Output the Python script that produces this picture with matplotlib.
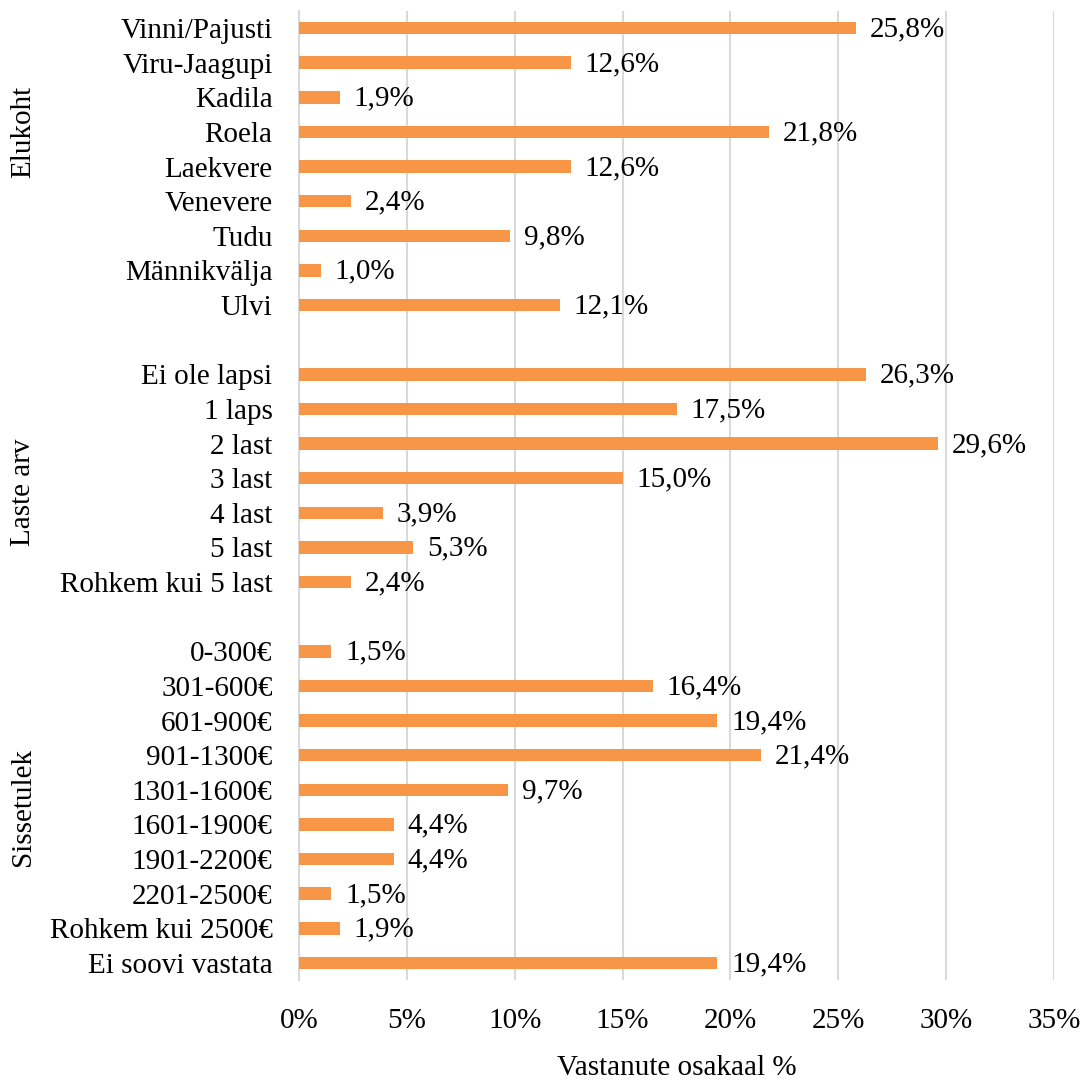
import matplotlib.pyplot as plt
import matplotlib.transforms as mtransforms
import numpy as np

plt.rcParams['font.family'] = ['Liberation Serif', 'DejaVu Serif']

# andmed
groups = ['Elukoht', 'Laste arv', 'Sissetulek']
elukoht = ['Vinni/Pajusti', 'Viru-Jaagupi', 'Kadila', 'Roela', 'Laekvere',
           'Venevere', 'Tudu', 'Männikvälja', 'Ulvi']
elukoht_val = [25.8, 12.6, 1.9, 21.8, 12.6, 2.4, 9.8, 1.0, 12.1]
lapsed = ['Ei ole lapsi', '1 laps', '2 last', '3 last', '4 last', '5 last',
          'Rohkem kui 5 last']
lapsed_val = [26.3, 17.5, 29.6, 15.0, 3.9, 5.3, 2.4]
sissetulek = ['0-300€', '301-600€', '601-900€', '901-1300€', '1301-1600€',
              '1601-1900€', '1901-2200€', '2201-2500€', 'Rohkem kui 2500€',
              'Ei soovi vastata']
sissetulek_val = [1.5, 16.4, 19.4, 21.4, 9.7, 4.4, 4.4, 1.5, 1.9, 19.4]
x_ticks = [0, 5, 10, 15, 20, 25, 30, 35]

color = '#F79646'
fs = 21

fig = plt.figure(figsize=(10.84, 10.82), dpi=100)
left, right = 299 / 1084, 1054 / 1084
top, bottom = 1 - 10.7 / 1082, 1 - 980.3 / 1082
ax = fig.add_axes([left, bottom, right - left, top - bottom])

labels, values, pos, group_pos = [], [], [], []
y = 0
for cats, vals in [(elukoht, elukoht_val), (lapsed, lapsed_val), (sissetulek, sissetulek_val)]:
    ys = list(range(y, y + len(cats)))
    labels += cats
    values += vals
    pos += ys
    group_pos.append(np.mean(ys))
    y += len(cats) + 1

ax.barh(pos, values, height=0.36, color=color, zorder=3)
for p, v in zip(pos, values):
    ax.annotate(f'{v:.1f}%'.replace('.', ','), (v, p), xytext=(10, -1),
                textcoords='offset points', va='center', ha='left', fontsize=fs)

ax.set_yticks(pos)
ax.set_yticklabels(labels, fontsize=fs)
ax.set_ylim(y - 1 - 0.5, -0.5)
ax.set_xlim(0, 35)
ax.set_xticks(x_ticks)
ax.set_xticklabels([f'{t}%' for t in x_ticks], fontsize=fs)
ax.tick_params(axis='y', length=0, pad=19)
ax.tick_params(axis='x', length=0, pad=20)
ax.grid(axis='x', color='#D9D9D9', linewidth=1.5, zorder=0)
for s in ['top', 'right', 'bottom']:
    ax.spines[s].set_visible(False)
ax.spines['left'].set_color('#D9D9D9')
ax.spines['left'].set_linewidth(1.5)

# grupi nimed (Exceli paigutus pole päris keskel)
trans = mtransforms.blended_transform_factory(fig.transFigure, ax.transData)
group_pos[0] = 3.0
group_pos[1] = 13.4
for g, gp in zip(groups, group_pos):
    ax.text(0.021, gp, g, rotation=90, va='center', ha='center',
            fontsize=fs, transform=trans)

fig.text((left + right) / 2, 1 - 1068 / 1082, 'Vastanute osakaal %',
         ha='center', va='center', fontsize=fs)

fig.savefig('out.png', dpi=100)
